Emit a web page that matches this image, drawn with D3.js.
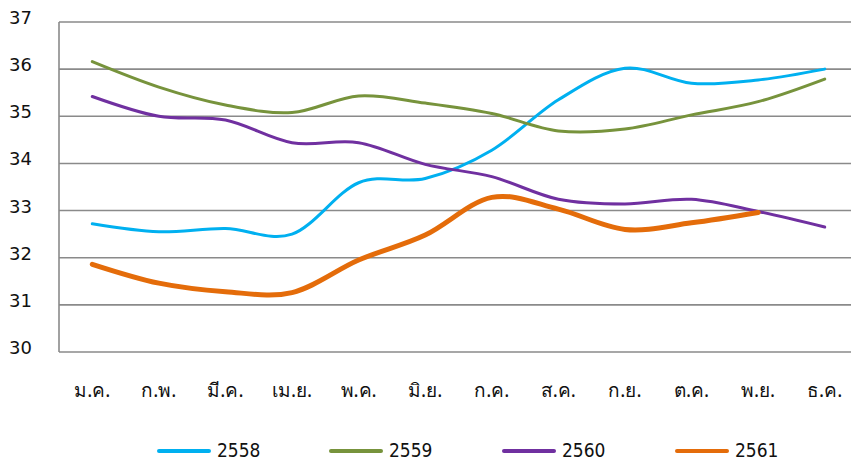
<!DOCTYPE html>
<html><head><meta charset="utf-8">
<script src="https://cdn.jsdelivr.net/npm/d3@7/dist/d3.min.js"></script>
<style>body{margin:0;background:#fff}svg{display:block}</style>
</head><body>
<svg id="c" width="851" height="461"></svg>
<script>
const months = ["ม.ค.","ก.พ.","มี.ค.","เม.ย.","พ.ค.","มิ.ย.","ก.ค.","ส.ค.","ก.ย.","ต.ค.","พ.ย.","ธ.ค."];
const yTicks = [30,31,32,33,34,35,36,37];
const seriesNames = ["2558","2559","2560","2561"];
const s2558 = [32.72,32.55,32.62,32.5,33.59,33.68,34.28,35.35,36.02,35.7,35.77,36.0];
const s2559 = [36.16,35.62,35.24,35.08,35.43,35.28,35.06,34.69,34.73,35.03,35.31,35.79];
const s2560 = [35.42,35.0,34.92,34.44,34.44,33.98,33.72,33.24,33.14,33.24,32.98,32.65];
const s2561 = [31.86,31.46,31.28,31.26,31.95,32.48,33.28,33.03,32.6,32.74,32.96,null];
const colors = ["#00B0F0","#77933C","#7030A0","#E46C0A"];
const widths = [3,3,3,5];

const svg = d3.select("#c");
const pL = 59, pR = 858, pT = 22, pB = 352;
const x = d3.scaleBand().domain(months).range([pL, pR]);
const y = d3.scaleLinear().domain([30,37]).range([pB, pT]);

// gridlines
svg.append("g").selectAll("line").data(yTicks).join("line")
  .attr("x1", pL).attr("x2", 851)
  .attr("y1", d => y(d)).attr("y2", d => y(d))
  .attr("stroke", "#8a8a8a").attr("stroke-width", 1.6);
svg.append("line").attr("x1", pL).attr("x2", pL).attr("y1", pT).attr("y2", pB)
  .attr("stroke", "#8a8a8a").attr("stroke-width", 1.6);

// y labels
svg.append("g").selectAll("text").data(yTicks).join("text")
  .attr("x", 32).attr("y", d => y(d) - 3)
  .attr("text-anchor", "end").attr("dominant-baseline", "middle")
  .attr("font-family", "DejaVu Sans, sans-serif").attr("font-size", 18).attr("fill", "#111")
  .text(d => d);

// x labels
svg.append("g").selectAll("text").data(months).join("text")
  .attr("x", d => x(d) + x.bandwidth()/2).attr("y", 397)
  .attr("text-anchor", "middle")
  .attr("font-family", "Noto Sans, DejaVu Sans, sans-serif").attr("font-size", 19).attr("fill", "#111")
  .text(d => d);

const all = [s2558, s2559, s2560, s2561];
const line = d3.line()
  .x(d => x(d.m) + x.bandwidth()/2)
  .y(d => y(d.v))
  .curve(d3.curveCardinal.tension(0));

all.forEach((s, i) => {
  svg.append("path")
    .datum(s.map((v, j) => ({m: months[j], v})).filter(d => d.v != null))
    .attr("d", line)
    .attr("fill", "none").attr("stroke", colors[i]).attr("stroke-width", widths[i])
    .attr("stroke-linecap", "round");
});

// legend
const legX = [159, 331, 504, 677];
seriesNames.forEach((n, i) => {
  svg.append("line").attr("x1", legX[i]).attr("x2", legX[i] + 50)
    .attr("y1", 451).attr("y2", 451)
    .attr("stroke", colors[i]).attr("stroke-width", 4).attr("stroke-linecap", "round");
  svg.append("text").attr("x", legX[i] + 58).attr("y", 451)
    .attr("dominant-baseline", "middle")
    .attr("font-family", "DejaVu Sans Condensed, DejaVu Sans, sans-serif").attr("font-size", 19).attr("fill", "#111")
    .text(n);
});
</script>
</body></html>
